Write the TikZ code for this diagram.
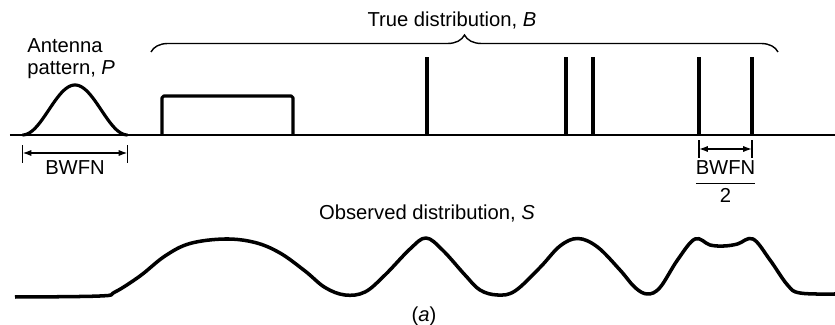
\documentclass[tikz,border=0pt]{standalone}
\usepackage{amsmath,fontspec,tikz}
\setmainfont{Liberation Sans}
\usetikzlibrary{arrows.meta,decorations.pathreplacing}

\begin{document}
\begin{tikzpicture}[>={Latex[length=5pt,width=3.5pt]},font=\fontsize{11.5}{13}\selectfont,
  base/.style={line width=1.1pt},thickline/.style={line width=1.8pt,line join=round},
  dimline/.style={<->,line width=0.8pt},tickline/.style={line width=0.8pt}]
\useasboundingbox (0,0) rectangle (16.7,6.5);
\draw[base] (0.2,3.8)--(16.7,3.8);
\draw[thickline,domain=0.45:2.55,samples=60] plot(\x,{3.8+0.5*(1+cos(180*(\x-1.5)/1.05))});
\node[align=left,anchor=west,inner sep=0,font=\fontsize{11.5}{12.5}\selectfont] (antlbl) at(0.54,5.32){Antenna\\pattern, \textit{P}};
\coordinate (pl) at(0.45,3.44);\coordinate (pr) at(2.55,3.44);
\draw[tickline] (0.45,3.24)--(0.45,3.6);\draw[tickline] (2.55,3.24)--(2.55,3.6);
\draw[dimline] (pl)--(pr);
\node (bwfnL) at(1.5,3.14){BWFN};
\draw[thickline,rounded corners=1pt] (3.24,3.8)|-(5.86,4.58)--(5.86,3.8);
\foreach \x in {8.54,11.32,11.86,13.98,15.04} \draw[thickline] (\x,3.8)--(\x,5.36);
\draw[line width=0.8pt,decorate,decoration={brace,amplitude=0.34cm}] (3.02,5.46)--(15.56,5.46);
\node (truelbl) at(9.04,6.1){True distribution, \textit{B}};
\coordinate (sl) at(13.98,3.52);\coordinate (sr) at(15.04,3.52);
\draw[tickline] (13.98,3.34)--(13.98,3.7);\draw[tickline] (15.04,3.34)--(15.04,3.7);
\draw[dimline] (sl)--(sr);
\node (bwfnR) at(14.51,2.87){$\dfrac{\text{BWFN}}{\text{2}}$};
\node (obslbl) at(8.54,2.24){Observed distribution, \textit{S}};
\draw[thickline,line width=2pt] plot[smooth,tension=0.6] coordinates {(0.3,0.56) (2.0,0.58) (2.3,0.66) (2.8,0.98) (3.3,1.38) (3.8,1.63) (4.5,1.72) (5.1,1.65) (5.6,1.44) (6.1,1.08) (6.5,0.75) (6.9,0.6) (7.3,0.66) (7.7,1.0) (8.2,1.52) (8.52,1.74) (8.85,1.5) (9.3,1.0) (9.6,0.7) (9.95,0.6) (10.3,0.68) (10.8,1.15) (11.2,1.58) (11.56,1.73) (11.95,1.56) (12.4,1.1) (12.7,0.75) (12.95,0.62) (13.2,0.75) (13.55,1.3) (13.9,1.72) (14.2,1.6) (14.48,1.58) (14.75,1.62) (15.06,1.72) (15.4,1.3) (15.75,0.8) (16.0,0.64) (16.7,0.62)};
\node (caption) at(8.48,0.18){(\textit{a})};
\end{tikzpicture}
\end{document}
